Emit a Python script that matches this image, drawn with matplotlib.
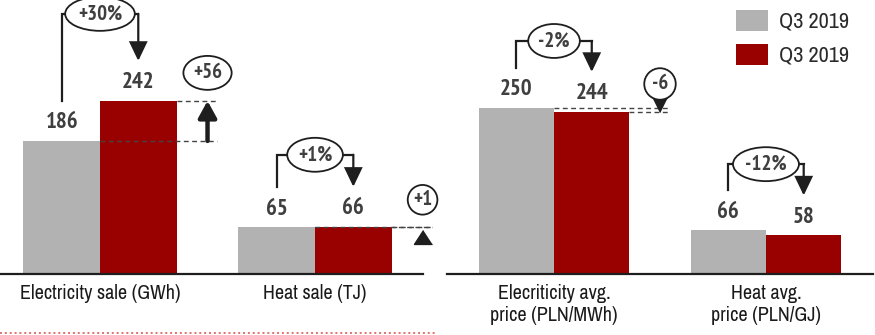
import matplotlib
matplotlib.use('Agg')
import matplotlib.pyplot as plt
from matplotlib.patches import Patch
from matplotlib.lines import Line2D

plt.rcParams['font.family'] = ['Archivo Narrow', 'Liberation Sans', 'DejaVu Sans']
BOLD_FONT = ['PT Sans Narrow', 'Liberation Sans', 'DejaVu Sans']

# ---- data ----
series_labels = ['Q3 2019', 'Q3 2019']

sales_categories = ['Electricity sale (GWh)', 'Heat sale (TJ)']
sales_prev = [186, 65]
sales_curr = [242, 66]
sales_pct = ['+30%', '+1%']
sales_delta = ['+56', '+1']

price_categories = ['Elecriticity avg.\nprice (PLN/MWh)', 'Heat avg.\nprice (PLN/GJ)']
price_prev = [250, 66]
price_curr = [244, 58]
price_pct = ['-2%', '-12%']
price_delta = ['-6', None]

# ---- style ----
GRAY = '#B2B2B2'
RED = '#990000'
INK = '#1E1E1E'
TXT = '#3F3F3F'
W, H = 875, 335
BAR_W = 0.356

fig = plt.figure(figsize=(W / 100, H / 100), dpi=100)
axL = fig.add_axes([0 / W, 61 / H, 423 / W, 274 / H])
axR = fig.add_axes([447 / W, 61 / H, 426 / W, 274 / H])


def setup(ax, cats, ytop, xlim):
    ax.set_ylim(0, ytop)
    ax.set_xlim(*xlim)
    for s in ('top', 'right', 'left'):
        ax.spines[s].set_visible(False)
    ax.spines['bottom'].set_linewidth(1.6)
    ax.spines['bottom'].set_color(INK)
    ax.set_yticks([])
    ax.set_xticks(range(len(cats)))
    ax.set_xticklabels(cats, fontsize=14.5, color='#1A1A1A', linespacing=1.25)
    ax.tick_params(axis='x', length=0, pad=7)
    ax.patch.set_visible(False)


def per_px(ax):
    # data units per pixel along y
    h = ax.get_window_extent().height
    lo, hi = ax.get_ylim()
    return (hi - lo) / h


def bubble(ax, x, y, s, style):
    ax.text(x, y, s, ha='center', va='center', fontsize=15, fontweight='bold',
            family=BOLD_FONT, color=TXT, zorder=6, clip_on=False,
            bbox=dict(boxstyle=style, fc='white', ec=INK, lw=1.3))


def draw_panel(ax, prev, curr, pct, delta, bracket_px, delta_kind):
    u = per_px(ax)
    xs = list(range(len(prev)))
    ax.bar([x - BAR_W / 2 for x in xs], prev, BAR_W, color=GRAY, zorder=2)
    ax.bar([x + BAR_W / 2 for x in xs], curr, BAR_W, color=RED, zorder=2)

    for i, x in enumerate(xs):
        xg, xr = x - BAR_W / 2, x + BAR_W / 2
        v0, v1 = prev[i], curr[i]
        # value labels
        for xx, v in ((xg, v0), (xr, v1)):
            ax.annotate(f'{v}', (xx, v), xytext=(0, 18), textcoords='offset pixels',
                        ha='center', va='center', fontsize=16.5, fontweight='bold',
                        family=BOLD_FONT, color=TXT, zorder=5)
        # percentage bracket
        top = max(v0, v1) + bracket_px[i] * u
        y_start = v0 + 40 * u
        y_tip = v1 + 40 * u
        ax.plot([xg, xg, xr], [y_start, top, top], color=INK, lw=1.6,
                solid_joinstyle='miter', clip_on=False, zorder=3)
        ax.annotate('', xy=(xr, y_tip), xytext=(xr, top),
                    arrowprops=dict(arrowstyle='-|>,head_length=1.15,head_width=0.55',
                                    color=INK, lw=1.6, shrinkA=0, shrinkB=0,
                                    mutation_scale=10, joinstyle='miter'),
                    annotation_clip=False, zorder=3)
        bubble(ax, x, top, pct[i], 'ellipse,pad=0.12')

        # absolute change marker
        if delta[i] is None:
            continue
        xd = x + 0.5
        xe = x + 0.545
        dash = dict(color='#444444', lw=1.0, linestyle=(0, (3.5, 2.5)), zorder=4,
                    clip_on=False)
        ax.plot([x, xe], [v0, v0], **dash)
        ax.plot([xr + BAR_W / 2, xe], [v1, v1], **dash)
        kind = delta_kind[i]
        if kind == 'arrow':
            ax.annotate('', xy=(xd, v1), xytext=(xd, v0),
                        arrowprops=dict(arrowstyle='-|>,head_length=1.0,head_width=0.55',
                                        color=INK, lw=3.2, shrinkA=0, shrinkB=0,
                                        mutation_scale=10),
                        annotation_clip=False, zorder=5)
            bubble(ax, xd, v1 + 28 * u, delta[i], 'ellipse,pad=0.12')
        elif kind == 'up':
            ax.plot([xd], [max(v0, v1) - 10 * u], marker=[(0, 1), (-1.3, -1), (1.3, -1)],
                    ms=13, color=INK, clip_on=False, zorder=5)
            bubble(ax, xd, max(v0, v1) + 27 * u, delta[i], 'circle,pad=0.25')
        elif kind == 'pin':
            ax.plot([xd], [min(v0, v1) + 7 * u], marker=[(0, -1), (-1.0, 1), (1.0, 1)],
                    ms=10, color=INK, clip_on=False, zorder=5)
            bubble(ax, xd, max(v0, v1) + 24 * u, delta[i], 'circle,pad=0.3')


setup(axL, sales_categories, 383, (-0.465, 1.502))
setup(axR, price_categories, 412.6, (-0.505, 1.505))

draw_panel(axL, sales_prev, sales_curr, sales_pct, sales_delta, [87, 72], ['arrow', 'up'])
draw_panel(axR, price_prev, price_curr, price_pct, price_delta, [67, 66], ['pin', None])

# legend
handles = [Patch(facecolor=GRAY, edgecolor='none'), Patch(facecolor=RED, edgecolor='none')]
fig.legend(handles, series_labels, loc='upper left', bbox_to_anchor=(736 / W, 1 - 10 / H),
           frameon=False, fontsize=16, handlelength=1.45, handleheight=1.05,
           handletextpad=0.5, labelspacing=0.55, borderpad=0, borderaxespad=0,
           labelcolor='#2A2A2A')

# dotted separator under the sales panel
fig.add_artist(Line2D([0, 436 / W], [2 / H, 2 / H], transform=fig.transFigure,
                      color='#E07070', lw=1.4, linestyle=(0, (1, 1.5))))

fig.savefig('out.png', dpi=100)
